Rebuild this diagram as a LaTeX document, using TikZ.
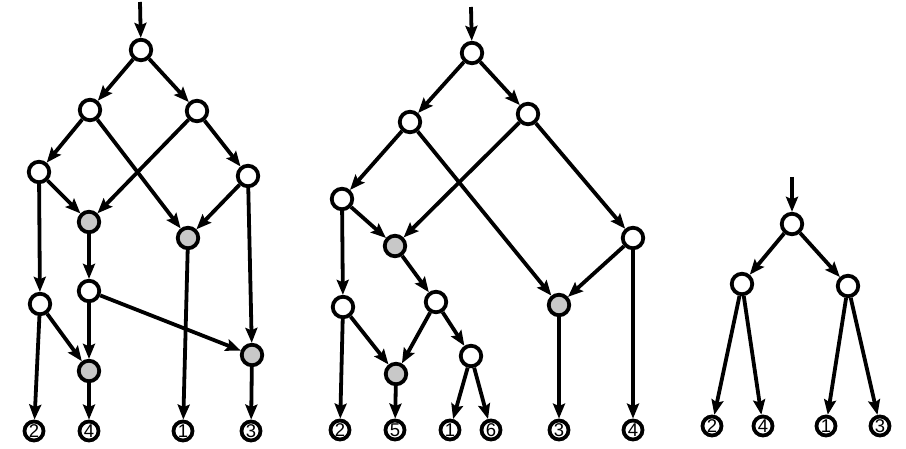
\documentclass[tikz,border=0pt]{standalone}
\usepackage{fontspec}
\setsansfont{Liberation Sans}
\usetikzlibrary{arrows.meta}
\definecolor{nodegray}{RGB}{200,200,200}
\begin{document}
\begin{tikzpicture}[x=1pt,y=-1pt,
  arr/.style={-{Stealth[length=15pt,width=12pt,inset=2.5pt]}, line width=3.8pt},
  wn/.style={circle, draw, line width=3.8pt, fill=white, minimum size=20.5pt, inner sep=0pt},
  gn/.style={circle, draw, line width=3.8pt, fill=nodegray, minimum size=20.5pt, inner sep=0pt},
  lf/.style={circle, draw, line width=3.8pt, fill=white, minimum size=19pt, inner sep=0pt, font=\sffamily\fontsize{18.5}{18.5}\selectfont}]
\useasboundingbox (0,0) rectangle (906,449);

% ---------- graph 1 ----------
\coordinate (s1) at (140,2);
\node[wn] (r1) at (141,50) {};
\node[wn] (a11) at (90,110) {};
\node[wn] (a12) at (197,111) {};
\node[wn] (b11) at (39,172) {};
\node[wn] (b12) at (248,176) {};
\node[gn] (g11) at (89,222) {};
\node[gn] (g12) at (188,238) {};
\node[wn] (c11) at (40,304) {};
\node[wn] (c12) at (89,291) {};
\node[gn] (g13) at (89,371) {};
\node[gn] (g14) at (252,355) {};
\node[lf] (l12) at (34,431) {2};
\node[lf] (l14) at (89,431) {4};
\node[lf] (l11) at (183,431) {1};
\node[lf] (l13) at (251,431) {3};

\draw[arr] (s1) -- (r1);
\draw[arr] (r1) -- (a11);
\draw[arr] (r1) -- (a12);
\draw[arr] (a11) -- (b11);
\draw[arr] (a11) -- (g12);
\draw[arr] (a12) -- (g11);
\draw[arr] (a12) -- (b12);
\draw[arr] (b11) -- (g11);
\draw[arr] (b12) -- (g12);
\draw[arr] (b11) -- (c11);
\draw[arr] (g11) -- (c12);
\draw[arr] (b12) -- (g14);
\draw[arr] (g12) -- (l11);
\draw[arr] (c11) -- (l12);
\draw[arr] (c11) -- (g13);
\draw[arr] (c12) -- (g13);
\draw[arr] (c12) -- (g14);
\draw[arr] (g13) -- (l14);
\draw[arr] (g14) -- (l13);

% ---------- graph 2 ----------
\coordinate (s2) at (471,7);
\node[wn] (r2) at (472,53) {};
\node[wn] (a21) at (410,122) {};
\node[wn] (a22) at (528,114) {};
\node[wn] (b21) at (342,199) {};
\node[wn] (b22) at (633,238) {};
\node[gn] (g21) at (395,246) {};
\node[gn] (g22) at (559,305) {};
\node[wn] (c21) at (343,307) {};
\node[wn] (c22) at (436,302) {};
\node[wn] (d2) at (471,356) {};
\node[gn] (g23) at (396,374) {};
\node[lf] (l22) at (340,430) {2};
\node[lf] (l25) at (395,430) {5};
\node[lf] (l21) at (450,430) {1};
\node[lf] (l26) at (491,430) {6};
\node[lf] (l23) at (559,430) {3};
\node[lf] (l24) at (633,430) {4};

\draw[arr] (s2) -- (r2);
\draw[arr] (r2) -- (a21);
\draw[arr] (r2) -- (a22);
\draw[arr] (a21) -- (b21);
\draw[arr] (a21) -- (g22);
\draw[arr] (a22) -- (g21);
\draw[arr] (a22) -- (b22);
\draw[arr] (b21) -- (g21);
\draw[arr] (b21) -- (c21);
\draw[arr] (g21) -- (c22);
\draw[arr] (b22) -- (g22);
\draw[arr] (b22) -- (l24);
\draw[arr] (c21) -- (l22);
\draw[arr] (c21) -- (g23);
\draw[arr] (c22) -- (g23);
\draw[arr] (c22) -- (d2);
\draw[arr] (d2) -- (l21);
\draw[arr] (d2) -- (l26);
\draw[arr] (g23) -- (l25);
\draw[arr] (g22) -- (l23);

% ---------- graph 3 ----------
\coordinate (s3) at (792,177);
\node[wn] (r3) at (792,224) {};
\node[wn] (a31) at (742,284) {};
\node[wn] (a32) at (848,286) {};
\node[lf] (l32) at (712,426) {2};
\node[lf] (l34) at (763,426) {4};
\node[lf] (l31) at (826,426) {1};
\node[lf] (l33) at (880,426) {3};

\draw[arr] (s3) -- (r3);
\draw[arr] (r3) -- (a31);
\draw[arr] (r3) -- (a32);
\draw[arr] (a31) -- (l32);
\draw[arr] (a31) -- (l34);
\draw[arr] (a32) -- (l31);
\draw[arr] (a32) -- (l33);
\end{tikzpicture}
\end{document}
